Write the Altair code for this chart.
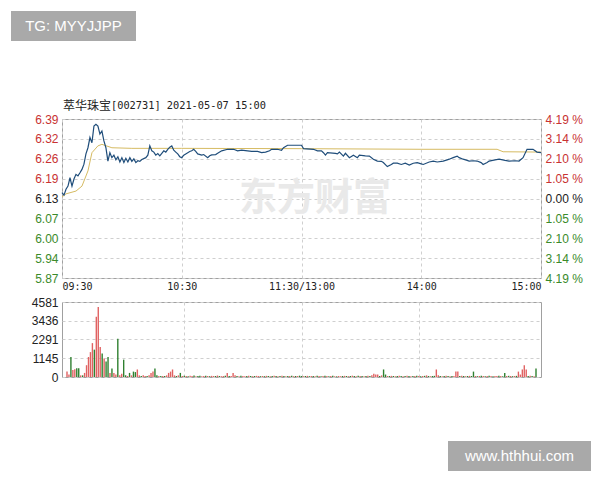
import altair as alt
import pandas as pd

# ---------------- data ----------------
prev_close = 6.13
pct_step = 1.0475
time_ticks = [0, 60, 120, 180, 240]
time_labels = ["09:30", "10:30", "11:30/13:00", "14:00", "15:00"]
vol_ticks = [0, 1145, 2291, 3436, 4581]
title_name = "萃华珠宝"
title_rest = "[002731] 2021-05-07 15:00"
wm_top = "TG: MYYJJPP"
wm_bottom = "www.hthhui.com"
wm_center = "东方财富"

price_points = [
    (0, 6.149), (1, 6.141), (2, 6.160), (3, 6.170), (4, 6.197), (5, 6.170), (6, 6.193),
    (7, 6.208), (8, 6.203), (9, 6.213), (10, 6.224), (11, 6.241), (12, 6.274), (13, 6.294),
    (14, 6.327), (15, 6.310), (16, 6.364), (17, 6.370), (18, 6.364), (19, 6.338), (20, 6.348),
    (21, 6.316), (22, 6.294), (23, 6.251), (24, 6.278), (25, 6.262), (26, 6.270), (27, 6.255),
    (28, 6.265), (29, 6.248), (30, 6.262), (31, 6.246), (32, 6.260), (33, 6.248), (34, 6.262),
    (35, 6.250), (36, 6.258), (37, 6.246), (38, 6.252), (39, 6.250), (40, 6.256), (42, 6.262),
    (43, 6.270), (44, 6.300), (45, 6.284), (46, 6.280), (47, 6.270), (48, 6.275), (49, 6.268),
    (50, 6.276), (51, 6.284), (52, 6.280), (53, 6.289), (54, 6.296), (55, 6.300), (56, 6.286),
    (57, 6.280), (58, 6.274), (59, 6.265), (60, 6.262), (61, 6.270), (62, 6.274), (64, 6.282),
    (65, 6.284), (66, 6.289), (67, 6.282), (68, 6.274), (70, 6.270), (71, 6.272), (73, 6.262),
    (74, 6.268), (75, 6.271), (77, 6.272), (78, 6.276), (80, 6.284), (83, 6.289), (86, 6.289),
    (88, 6.284), (90, 6.286), (95, 6.282), (98, 6.282), (100, 6.278), (102, 6.280), (104, 6.284),
    (105, 6.289), (108, 6.289), (110, 6.286), (111, 6.294), (113, 6.302), (120, 6.302),
    (121, 6.291), (126, 6.289), (128, 6.284), (130, 6.284), (131, 6.278), (132, 6.270),
    (133, 6.278), (137, 6.276), (138, 6.274), (139, 6.280), (141, 6.267), (142, 6.276),
    (144, 6.262), (146, 6.270), (148, 6.262), (149, 6.270), (152, 6.268), (154, 6.267),
    (156, 6.257), (158, 6.251), (160, 6.250), (161, 6.246), (163, 6.233), (165, 6.240),
    (166, 6.244), (168, 6.244), (170, 6.240), (172, 6.244), (174, 6.238), (176, 6.244),
    (178, 6.246), (180, 6.242), (181, 6.240), (184, 6.248), (186, 6.251), (188, 6.248),
    (191, 6.251), (193, 6.255), (194, 6.257), (196, 6.262), (198, 6.267), (199, 6.262),
    (201, 6.257), (203, 6.253), (204, 6.251), (206, 6.252), (208, 6.251), (210, 6.246),
    (211, 6.240), (213, 6.246), (214, 6.251), (217, 6.255), (219, 6.257), (222, 6.253),
    (224, 6.251), (227, 6.252), (229, 6.251), (231, 6.262), (233, 6.289), (236, 6.289),
    (238, 6.280), (240, 6.278),
]

avg_points = [
    (0, 6.135), (2, 6.145), (7, 6.154), (10, 6.170), (13, 6.219), (15, 6.278), (18, 6.300),
    (20, 6.305), (25, 6.294), (35, 6.292), (60, 6.292), (120, 6.291), (180, 6.289),
    (218, 6.289), (221, 6.281), (240, 6.280),
]

volumes = [
    330, 150, 1220, 420, 480, 540, 540, 100, 100, 250, 720, 1220, 1520, 2070, 1670, 3680, 4280, 1830, 1430, 1130,
    950, 1220, 250, 520, 250, 150, 2330, 100, 200, 1060, 100, 60, 250, 100, 330, 300, 460, 100, 60, 100,
    60, 60, 100, 250, 330, 520, 100, 60, 60, 60, 60, 100, 250, 330, 460, 100, 60, 100, 250, 60,
    80, 60, 50, 70, 60, 90, 50, 60, 70, 50, 60, 80, 60, 50, 70, 60, 60, 90, 60, 50,
    60, 70, 250, 60, 60, 250, 100, 60, 50, 70, 60, 50, 60, 80, 60, 50, 60, 70, 60, 50,
    60, 50, 70, 60, 50, 60, 80, 60, 50, 60, 70, 60, 50, 60, 60, 70, 50, 60, 60, 80,
    60, 50, 60, 70, 50, 60, 60, 50, 70, 60, 50, 60, 80, 60, 50, 60, 70, 50, 40, 60,
    50, 60, 70, 60, 50, 60, 80, 60, 50, 70, 60, 60, 50, 60, 70, 60, 100, 200, 150, 150,
    60, 100, 460, 150, 60, 60, 70, 60, 50, 60, 70, 60, 50, 60, 70, 60, 50, 60, 60, 70,
    60, 50, 60, 70, 100, 60, 50, 60, 70, 460, 100, 60, 50, 60, 70, 60, 50, 60, 60, 330,
    330, 60, 70, 60, 50, 60, 70, 60, 330, 60, 50, 60, 70, 60, 50, 60, 70, 60, 50, 60,
    60, 70, 60, 50, 250, 60, 70, 60, 50, 60, 70, 330, 150, 460, 720, 460, 60, 70, 60, 50,
    520,
]

vol_dir = (
    "rrgrrggrgrrrrrgrrrgr"
    "ggrgrrgrrggrgrggrrgr"
    "rgrrrggrgrgrrrrrgrgr"
    "grgrrgrggrrgrgrrgrgr"
    "rgrgrrrgrgrrgrgrgrrg"
    "rgrgrgrgrgrgrgrgrgrg"
    "grgrgrgrgrgrgrgrgrgr"
    "rgrgrgrgrgrgrgrgrrrr"
    "grggrgrgrgrgrgrgrgrg"
    "rgrgrgrggrrgrgrgrgrr"
    "rgrgrgrggrgrgrgrgrgr"
    "rgrggrgrgrgrrrrrgrgr"
    "g"
)

# ---------------- styling ----------------
RED = "#c83232"
GREEN = "#3a8a2a"
BLACK = "#222222"
BLUE = "#1f4d7a"
AVG = "#d6bb62"
VRED = "#e06262"
VGREEN = "#2f8030"
GRID = "#cfcfcf"
BORDER = "#a0a0a0"
SANS = "Liberation Sans"
MONO = "DejaVu Sans Mono"
CJK = "Noto Sans CJK SC"

W, H_TOP, H_VOL = 479, 159, 75

pct_ticks = [k * pct_step for k in range(-4, 5)]
price_ticks = [prev_close * (1 + p / 100) for p in pct_ticks]
lo, hi = price_ticks[0], price_ticks[-1]

price_df = pd.DataFrame(price_points, columns=["minute", "price"])
price_df["pct"] = (price_df["price"] / prev_close - 1) * 100
avg_df = pd.DataFrame(avg_points, columns=["minute", "price"])
vol_df = pd.DataFrame({"minute": list(range(len(volumes))), "vol": volumes, "dir": list(vol_dir)})

label_expr = " : ".join(f"datum.value == {t} ? '{l}'" for t, l in zip(time_ticks, time_labels)) + " : ''"

x_scale = alt.Scale(domain=[time_ticks[0], time_ticks[-1]], nice=False, zero=False)
x_top = alt.X(
    "minute:Q", scale=x_scale,
    axis=alt.Axis(values=time_ticks, labelExpr=label_expr, labelFlush=True, grid=True,
                  gridDash=[3, 3], gridColor=GRID, domain=False, ticks=False, labelPadding=3,
                  labelFont=MONO, labelFontSize=10, labelColor=BLACK, title=None),
)

price_color = {
    "condition": [
        {"test": f"datum.value > {prev_close + 0.001}", "value": RED},
        {"test": f"datum.value < {prev_close - 0.001}", "value": GREEN},
    ],
    "value": BLACK,
}
pct_color = {
    "condition": [
        {"test": "datum.value > 0.01", "value": RED},
        {"test": "datum.value < -0.01", "value": GREEN},
    ],
    "value": BLACK,
}

y_price = alt.Y(
    "price:Q", scale=alt.Scale(domain=[lo, hi], nice=False, zero=False),
    axis=alt.Axis(orient="left", values=price_ticks, format=".2f", grid=True, gridDash=[3, 3],
                  gridColor=GRID, domain=False, ticks=False, labelPadding=4, labelFont=SANS,
                  labelFontSize=12, labelColor=price_color, title=None),
)
y_pct = alt.Y(
    "pct:Q", scale=alt.Scale(domain=[pct_ticks[0], pct_ticks[-1]], nice=False, zero=False),
    axis=alt.Axis(orient="right", values=pct_ticks,
                  labelExpr="format(abs(datum.value) + 0.0001, '.2f') + ' %'",
                  grid=False, domain=False, ticks=False, labelPadding=4, labelFont=SANS,
                  labelFontSize=12, labelColor=pct_color, title=None),
)


def one(text):
    return pd.DataFrame({"t": [text]})


# overlays of the top panel
box_tl = alt.Chart(one(wm_top)).mark_rect(color="#a9a9a9").encode(
    x=alt.value(-51), x2=alt.value(74), y=alt.value(-108), y2=alt.value(-78))
text_tl = alt.Chart(one(wm_top)).mark_text(color="white", font=SANS, fontSize=15,
                                           align="center", baseline="middle").encode(
    text="t:N", x=alt.value(11.5), y=alt.value(-93))
wm = alt.Chart(one(wm_center)).mark_text(color="#e9e9e9", font=CJK, fontSize=38, fontWeight="bold",
                                         align="left", baseline="middle").encode(
    text="t:N", x=alt.value(177), y=alt.value(80))
t1 = alt.Chart(one(title_name)).mark_text(color=BLACK, font=CJK, fontSize=12,
                                          align="left", baseline="middle").encode(
    text="t:N", x=alt.value(1), y=alt.value(-13))
t2 = alt.Chart(one(title_rest)).mark_text(color=BLACK, font=MONO, fontSize=10.3,
                                          align="left", baseline="middle").encode(
    text="t:N", x=alt.value(49), y=alt.value(-13))

avg_line = alt.Chart(avg_df).mark_line(color=AVG, strokeWidth=1).encode(x=x_top, y=y_price)
price_line = alt.Chart(price_df).mark_line(color=BLUE, strokeWidth=1.2).encode(x=x_top, y=y_price)
pct_line = alt.Chart(price_df).mark_line(opacity=0).encode(x=x_top, y=y_pct)

top = alt.layer(
    box_tl, text_tl, wm, t1, t2,
    alt.layer(avg_line, price_line),
    pct_line,
).resolve_scale(y="independent").properties(width=W, height=H_TOP)

# volume panel
box_br = alt.Chart(one(wm_bottom)).mark_rect(color="#a9a9a9").encode(
    x=alt.value(386), x2=alt.value(529), y=alt.value(139), y2=alt.value(169))
text_br = alt.Chart(one(wm_bottom)).mark_text(color="white", font=SANS, fontSize=15,
                                              align="center", baseline="middle").encode(
    text="t:N", x=alt.value(457.5), y=alt.value(154))

bars = alt.Chart(vol_df).mark_bar(size=1.4).encode(
    x=alt.X("minute:Q", scale=x_scale,
            axis=alt.Axis(values=[60, 120, 180], labels=False, ticks=False, domain=False, grid=True,
                          gridDash=[3, 3], gridColor=GRID, title=None)),
    y=alt.Y("vol:Q", scale=alt.Scale(domain=[vol_ticks[0], vol_ticks[-1]], nice=False),
            axis=alt.Axis(values=vol_ticks, format="d", grid=True, gridDash=[3, 3], gridColor=GRID,
                          domain=False, ticks=False, labelPadding=4, labelFont=SANS,
                          labelFontSize=12, labelColor=BLACK, title=None)),
    color=alt.Color("dir:N", scale=alt.Scale(domain=["r", "g"], range=[VRED, VGREEN]), legend=None),
)

bottom = alt.layer(bars, box_br, text_br).properties(width=W, height=H_VOL)

chart = alt.vconcat(top, bottom, spacing=3).properties(
    padding={"left": 2, "top": 2, "right": 0, "bottom": 0}, background="white"
).configure_view(stroke=BORDER, strokeWidth=1)

chart.save("out.html", embed_options={"renderer": "svg", "actions": False})
